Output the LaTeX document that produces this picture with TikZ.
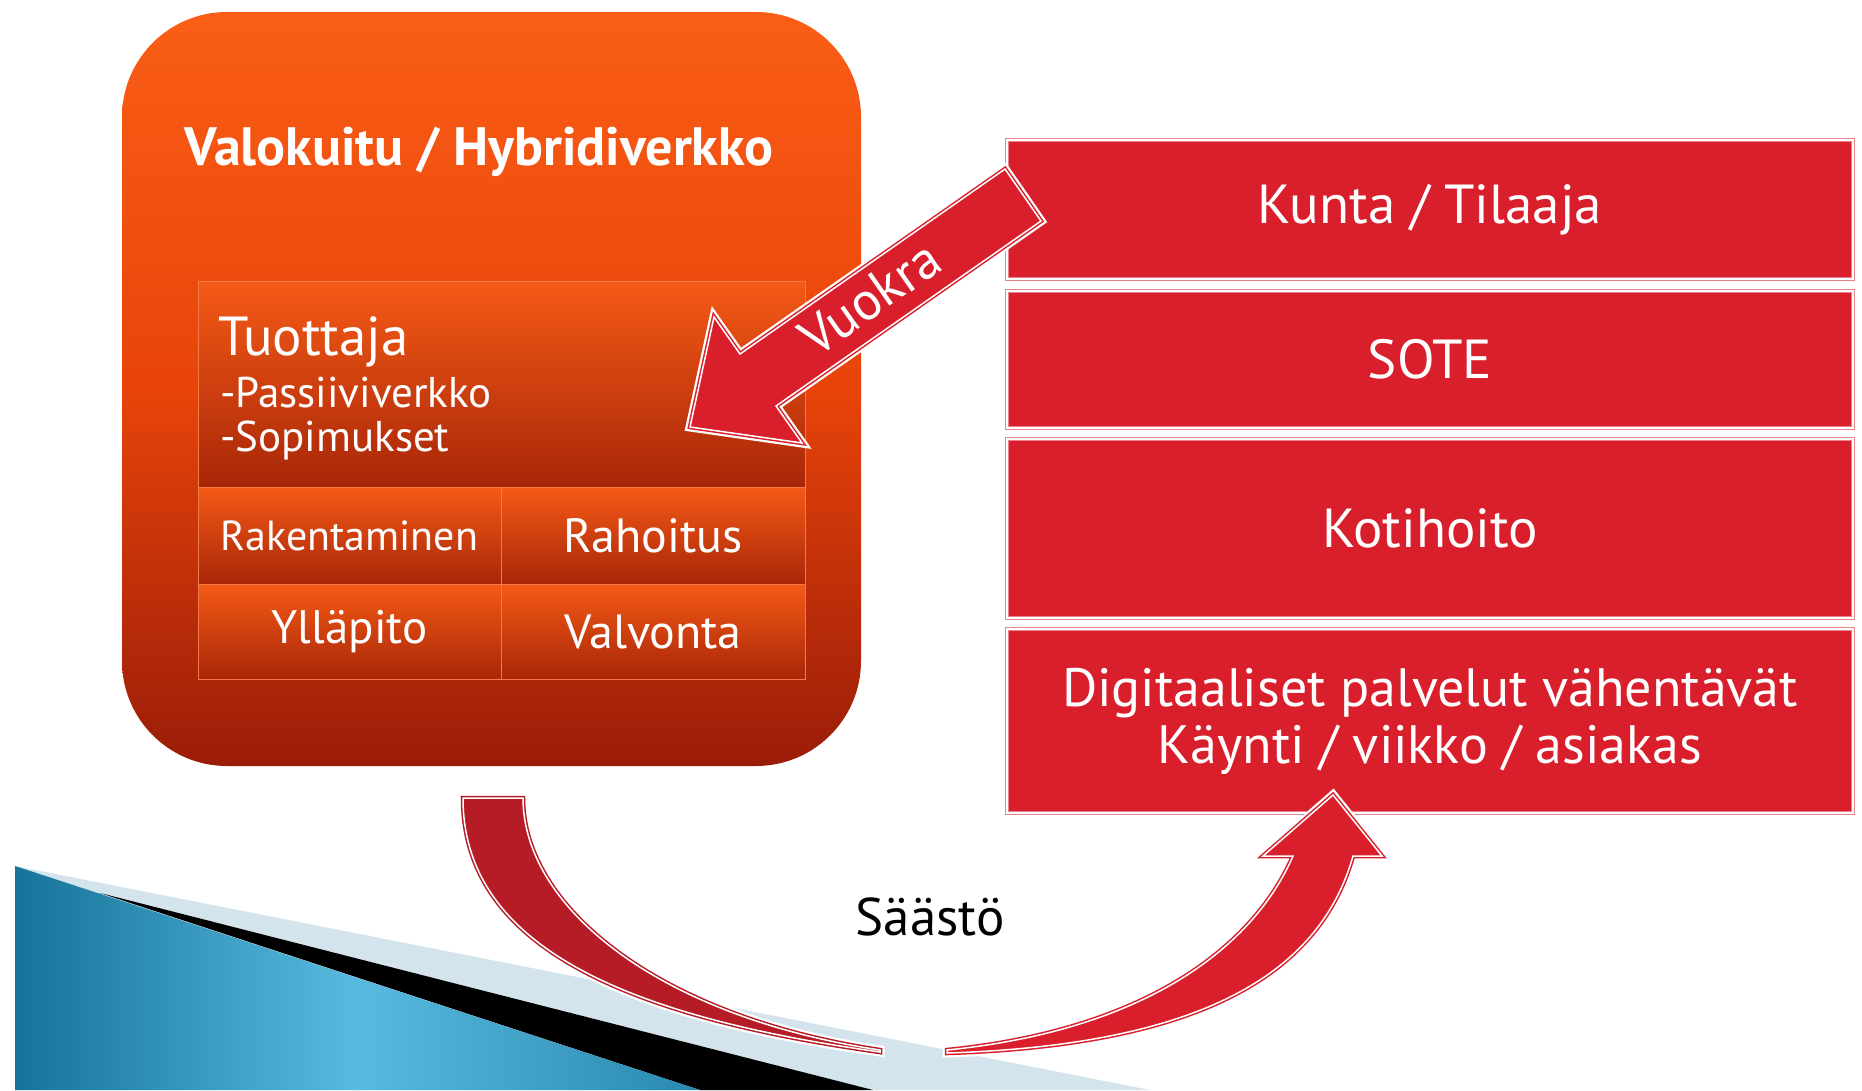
\documentclass[tikz,border=0pt]{standalone}
\usepackage{fontspec}
\setmainfont{PT Sans}
\usepackage{xcolor}
\usepackage{tikz}
\usetikzlibrary{positioning,calc}

\definecolor{kuitutop}{HTML}{FA5E16}
\definecolor{kuitumid}{HTML}{E8440A}
\definecolor{kuitubot}{HTML}{9A1C08}
\definecolor{celltop}{HTML}{F55A16}
\definecolor{cellbot}{HTML}{A82608}
\definecolor{cellline}{HTML}{F27A45}
\definecolor{palvelured}{HTML}{D91F2B}
\definecolor{saastored}{HTML}{B51C26}
\definecolor{swooshdark}{HTML}{16739A}
\definecolor{swooshlight}{HTML}{58BADF}
\definecolor{swooshgrey}{HTML}{D3E4EC}

\begin{document}
\begin{tikzpicture}[x=1pt, y=-1pt,
    cell/.style={draw=cellline, line width=1pt, top color=celltop, bottom color=cellbot,
        text=white, inner sep=0pt},
    palvelu/.style={draw=palvelured!55!white, double=white, double distance=1.5pt,
        line width=1.5pt, fill=palvelured, text=white, minimum width=846pt, align=center,
        font=\fontsize{55}{60}\selectfont},
    bigarrow/.style={preaction={draw=white, line width=9pt, line join=miter},
        fill=#1, draw=#1, double=white, double distance=1.5pt, line width=1.5pt,
        line join=miter},
    label/.style={text=white, inner sep=0pt, anchor=west}
]
    % Canvas
    \fill[white] (0,0) rectangle (1862,1090);
    \useasboundingbox (0,0) rectangle (1862,1090);

    % Corner swoosh
    \fill[swooshgrey] (15,866) -- (1150,1090) -- (15,1090) -- cycle;
    \fill[black] (100,893) -- (873,1090) -- (700,1090) -- cycle;
    \shade[left color=swooshdark, right color=swooshdark!70!swooshlight, middle color=swooshlight]
        (15,866) -- (700,1090) -- (15,1090) -- cycle;

    % Network box
    \node[top color=kuitutop, bottom color=kuitubot, middle color=kuitumid,
        rounded corners=105pt, minimum width=739pt, minimum height=754pt] (kuitu) at (491.5,389) {};
    \node[text=white, inner sep=0pt, font=\bfseries\fontsize{54}{60}\selectfont] (otsikko) at (479,152)
        {Valokuitu / Hybridiverkko};

    % Producer
    \node[cell, minimum width=607pt, minimum height=206pt] (tuottaja) at (501.5,384) {};
    \node[label, font=\fontsize{55}{60}\selectfont] (tuotnimi) at (218,342) {Tuottaja};
    \node[label, font=\fontsize{43}{48}\selectfont] (passiivi) at (220,393) {-Passiiviverkko};
    \node[label, font=\fontsize{43}{48}\selectfont] (sopimus) at (220,440) {-Sopimukset};

    % Producer tasks
    \node[cell, minimum width=303pt, minimum height=97pt, font=\fontsize{42}{48}\selectfont]
        (rakent) at (349.5,535.5) {Rakentaminen};
    \node[cell, minimum width=304pt, minimum height=97pt, font=\fontsize{48}{54}\selectfont]
        (rahoitus) at (653,535.5) {Rahoitus};
    \node[cell, minimum width=303pt, minimum height=95pt, font=\fontsize{47}{54}\selectfont]
        (yllapito) at (349.5,631.5) {Ylläpito};
    \node[cell, minimum width=304pt, minimum height=95pt, font=\fontsize{48}{54}\selectfont]
        (valvonta) at (653,631.5) {Valvonta};

    % Service stack
    \node[palvelu, minimum height=139pt] (kunta) at (1430,209.5) {Kunta / Tilaaja};
    \node[palvelu, minimum height=137pt] (sote) at (1430,359.5) {SOTE};
    \node[palvelu, minimum height=179pt] (koti) at (1430,528.5) {Kotihoito};
    \node[palvelu, minimum height=184pt, font=\fontsize{54}{57}\selectfont] (digi) at (1430,721)
        {Digitaaliset palvelut vähentävät\\Käynti / viikko / asiakas};

    % Rent arrow
    \path[bigarrow=palvelured] (1005,169) -- (1041,221) -- (776,406) -- (802,443)
        -- (690,427) -- (714,317) -- (740,354) -- cycle;
    \node[rotate=35, text=white, inner sep=0pt, font=\fontsize{54}{58}\selectfont] (vuokra)
        at (870,298) {Vuokra};

    % Savings arrow
    \path[bigarrow=saastored] (463,798) .. controls (463,948) and (630,1017) .. (880,1052)
        -- (880,1050) .. controls (660,1017) and (523,908) .. (523,798) -- cycle;
    \path[bigarrow=palvelured] (947,1053) .. controls (1197,1045) and (1319,976) .. (1353,856)
        -- (1382,856) -- (1333,795) -- (1263,856) -- (1293,856)
        .. controls (1254,946) and (1147,1030) .. (947,1050) -- cycle;
    \node[inner sep=0pt, font=\fontsize{53}{58}\selectfont] (saasto) at (930,917) {Säästö};
\end{tikzpicture}
\end{document}
